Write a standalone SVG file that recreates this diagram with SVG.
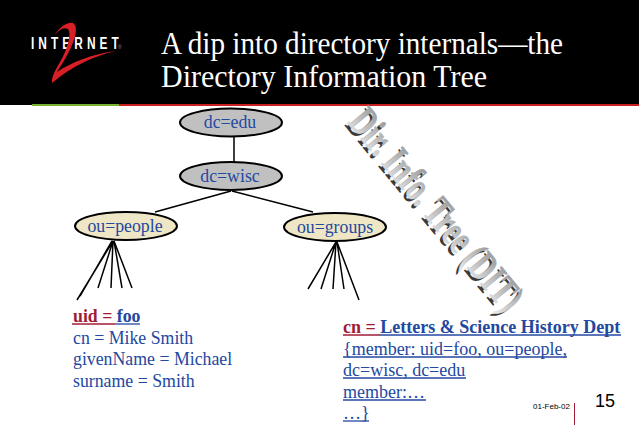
<svg xmlns="http://www.w3.org/2000/svg" width="639" height="425" viewBox="0 0 639 425">
<style>
.s{font-family:"Liberation Serif",serif}
.t{fill:#fff;font-size:30.5px}
.b{fill:#2348a0;font-size:17.8px}
.g{fill:#2348a0;font-size:18px}
.n{fill:#2348a0;font-size:17.8px;text-anchor:middle}
.r{fill:#a01c34}
.e{stroke:#000;stroke-width:2}
.c{stroke:#000;stroke-width:1.5;fill:none}
.u{stroke:#2348a0;stroke-width:1.3;fill:none}
.w{font-family:"Liberation Serif",serif;font-weight:bold;font-size:42px;stroke-width:.8px}
</style>
<defs>
<linearGradient id="g" x1="0" y1="0" x2="0" y2="1"><stop offset="0" stop-color="#8c8c8c"/><stop offset="1" stop-color="#efefef"/></linearGradient>
</defs>
<rect width="639" height="105" fill="#000"/>
<rect x="32" y="104" width="87" height="2" fill="#7ab030"/>
<rect x="119" y="104" width="520" height="2" fill="#c82020"/>
<g id="logo">
<text transform="translate(31 49) scale(.72 1)" font-family="Liberation Sans,sans-serif" font-weight="bold" font-size="16.500" fill="#fff" textLength="122" lengthAdjust="spacing">INTERNET</text>
<path d="M55 35C60 26 68 22 73 23C78 26 76 36 72 45C67 57 60 67 57 72C72 62 92 54 116 51C94 56 72 66 52 83C51 74 60 64 65 52C69 42 71 33 68 29C63 27 59 30 55 35Z" fill="#d81f26"/>
<text x="118" y="49" font-family="Liberation Sans,sans-serif" font-size="5" fill="#888">®</text>
</g>
<g id="title"><text class="s t" x="161" y="54" textLength="402" lengthAdjust="spacingAndGlyphs">A dip into directory internals—the</text><text class="s t" x="161" y="87" textLength="326" lengthAdjust="spacingAndGlyphs">Directory Information Tree</text></g>
<g id="connectors">
<path class="c" d="M234 136V164M231 191L155 212M232 191L313 212"/>
<path class="c" d="M113 241L77 300M112 241L80 296M113 241L98 288M113 241L111 288M114 241L122 288M114 241L132 288"/>
<path class="c" d="M336 242L308 289M336 242L321 289M336 242L333 289M337 242L344 289M337 242L359 300"/>
</g>
<g id="dc-edu"><ellipse class="e" cx="231" cy="122.500" rx="51" ry="14" fill="#c0c0c0"/><text class="s n" x="230" y="128">dc=edu</text></g>
<g id="dc-wisc"><ellipse class="e" cx="231" cy="176" rx="51" ry="14" fill="#c0c0c0"/><text class="s n" x="230" y="182">dc=wisc</text></g>
<g id="ou-people"><ellipse class="e" cx="126" cy="226" rx="51" ry="14" fill="#eee6c4"/><text class="s n" x="125" y="232">ou=people</text></g>
<g id="ou-groups"><ellipse class="e" cx="335" cy="227" rx="51" ry="14" fill="#eee6c4"/><text class="s n" x="335" y="233">ou=groups</text></g>
<g id="dit">
<text class="w" transform="translate(344 125) rotate(50.500)" fill="#3a3a3a" textLength="248" lengthAdjust="spacingAndGlyphs">Dir. Info. Tree (DIT)</text>
<text class="w" transform="translate(347 122.500) rotate(50.500)" fill="url(#g)" stroke="url(#g)" textLength="248" lengthAdjust="spacingAndGlyphs">Dir. Info. Tree (DIT)</text>
</g>
<g id="entry-foo">
<text class="s b" x="73" y="322"><tspan class="r" font-weight="bold">uid = </tspan><tspan font-weight="bold">foo</tspan></text>
<path d="M72 324H115" stroke="#a01c34" stroke-width="1.300"/><path d="M115 324H140" class="u"/>
<text class="s b" x="73" y="344">cn = Mike Smith</text>
<text class="s b" x="73" y="365">givenName = Michael</text>
<text class="s b" x="73" y="387">surname = Smith</text>
</g>
<g id="entry-group">
<text class="s g" x="343" y="333"><tspan class="r" font-weight="bold">cn = </tspan><tspan font-weight="bold">Letters &amp; Science History Dept</tspan></text>
<path d="M343 335H380" stroke="#a01c34" stroke-width="1.300"/><path d="M380 335H621" class="u"/>
<text class="s g" x="343" y="355">{member: uid=foo, ou=people,</text><path d="M343 357H567" class="u"/>
<text class="s g" x="343" y="376">dc=wisc, dc=edu</text><path d="M343 378H466" class="u"/>
<text class="s g" x="343" y="398">member:…</text><path d="M343 400H426" class="u"/>
<text class="s g" x="343" y="419">…}</text><path d="M343 421H369" class="u"/>
</g>
<g id="footer">
<text x="533" y="409" font-family="Liberation Sans,sans-serif" font-size="8" fill="#000">01-Feb-02</text>
<path d="M574.500 403V425" stroke="#a01c34" stroke-width="1"/>
<text x="595" y="407" font-family="Liberation Sans,sans-serif" font-size="18" fill="#000">15</text>
</g>
</svg>
